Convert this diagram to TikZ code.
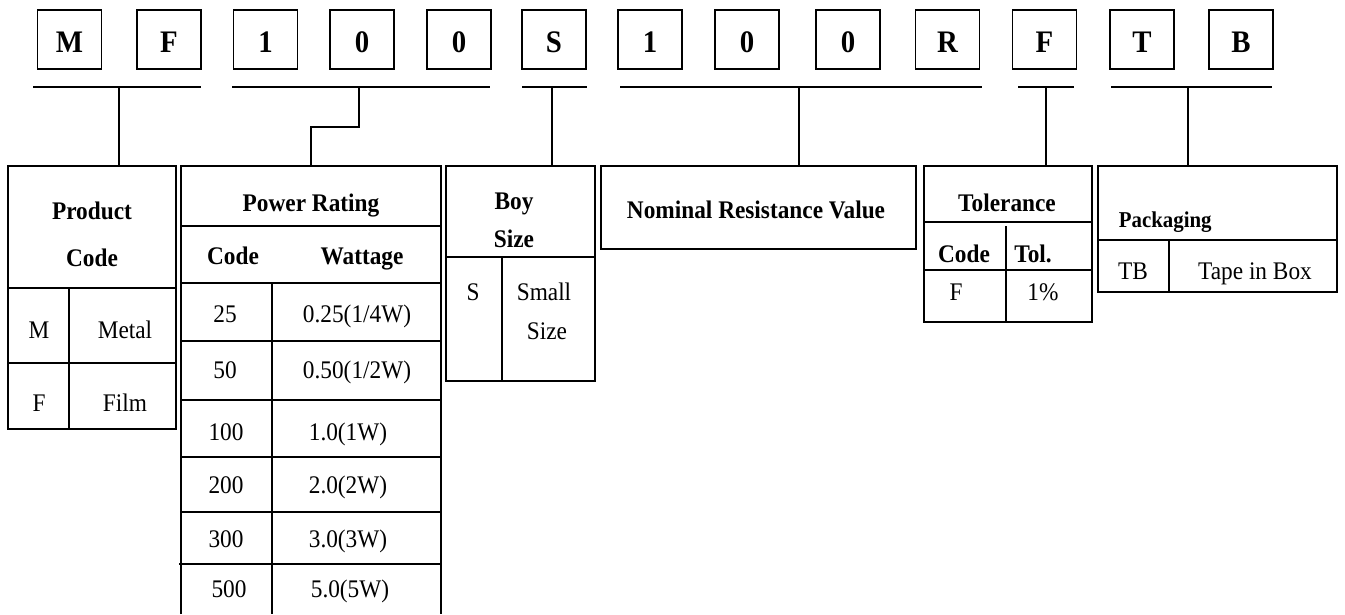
\documentclass[tikz,border=0pt]{standalone}
\usepackage{fontspec}
\setmainfont{Liberation Serif}[FakeStretch=0.92]
\begin{document}
\begin{tikzpicture}[x=0.75pt,y=-0.75pt,line width=1.4pt,
  digit/.style={draw,minimum width=48pt,minimum height=44.25pt,inner sep=0pt,
    text height=18.75pt,text depth=0pt,font=\fontsize{23.5}{26}\selectfont\bfseries},
  cell/.style={anchor=base,inner sep=0pt,font=\fontsize{19}{22}\selectfont},
  hcell/.style={anchor=base,inner sep=0pt,font=\fontsize{19}{22}\selectfont\bfseries},
  scell/.style={anchor=base west,inner sep=0pt,font=\fontsize{17}{20}\selectfont\bfseries}]
\useasboundingbox (0,0) rectangle (1345,614);

% top code boxes
\node[digit] (b1) at (69.5,39.5) {M};
\node[digit] (b2) at (169,39.5) {F};
\node[digit] (b3) at (265.5,39.5) {1};
\node[digit] (b4) at (362,39.5) {0};
\node[digit] (b5) at (459,39.5) {0};
\node[digit] (b6) at (554,39.5) {S};
\node[digit] (b7) at (650,39.5) {1};
\node[digit] (b8) at (747,39.5) {0};
\node[digit] (b9) at (848,39.5) {0};
\node[digit] (b10) at (947.5,39.5) {R};
\node[digit] (b11) at (1044.5,39.5) {F};
\node[digit] (b12) at (1142,39.5) {T};
\node[digit] (b13) at (1241,39.5) {B};

% underlines
\draw (33,87) -- (201,87);
\draw (232,87) -- (490,87);
\draw (522,87) -- (587,87);
\draw (620,87) -- (982,87);
\draw (1018,87) -- (1074,87);
\draw (1111,87) -- (1272,87);
\coordinate (s1) at (119,87);
\coordinate (s2) at (359,87);
\coordinate (s2k) at (359,127);
\coordinate (s2j) at (311,127);
\coordinate (s3) at (552,87);
\coordinate (s4) at (799,87);
\coordinate (s5) at (1046,87);
\coordinate (s6) at (1188,87);

% table tops
\coordinate (pcN) at (92,166);
\coordinate (prN) at (311,166);
\coordinate (bsN) at (520,166);
\coordinate (nrN) at (758,166);
\coordinate (toN) at (1008,166);
\coordinate (pkN) at (1217,166);

% connectors
\draw (s1) -- (s1 |- pcN);
\draw (s2) -- (s2k) -- (s2j) -- (prN);
\draw (s3) -- (s3 |- bsN);
\draw (s4) -- (s4 |- nrN);
\draw (s5) -- (s5 |- toN);
\draw (s6) -- (s6 |- pkN);

% Product Code
\draw (8,166) rectangle (176,429);
\draw (8,288) -- (176,288);
\draw (8,363) -- (176,363);
\draw (69,288) -- (69,429);
\node[hcell] (pc1) at (92,219) {Product};
\node[hcell] (pc2) at (92,266) {Code};
\node[cell] (pcm) at (39,338) {M};
\node[cell] (pcm2) at (125,338) {Metal};
\node[cell] (pcf) at (39,411) {F};
\node[cell] (pcf2) at (125,411) {Film};

% Power Rating
\draw (181,614) -- (181,166) -- (441,166) -- (441,614);
\draw (181,226) -- (441,226);
\draw (181,283) -- (441,283);
\draw (181,341) -- (441,341);
\draw (181,400) -- (441,400);
\draw (181,457) -- (441,457);
\draw (181,512) -- (441,512);
\draw (179,564) -- (441,564);
\draw (272,283) -- (272,614);
\node[hcell] (pr0) at (311,211) {Power Rating};
\node[hcell] (prc) at (233,264) {Code};
\node[hcell] (prw) at (362,264) {Wattage};
\node[cell] (r1a) at (225,322) {25};
\node[cell] (r1b) at (357,322) {0.25(1/4W)};
\node[cell] (r2a) at (225,378) {50};
\node[cell] (r2b) at (357,378) {0.50(1/2W)};
\node[cell] (r3a) at (226,440) {100};
\node[cell] (r3b) at (348,440) {1.0(1W)};
\node[cell] (r4a) at (226,493) {200};
\node[cell] (r4b) at (348,493) {2.0(2W)};
\node[cell] (r5a) at (226,547) {300};
\node[cell] (r5b) at (348,547) {3.0(3W)};
\node[cell] (r6a) at (229,597) {500};
\node[cell] (r6b) at (350,597) {5.0(5W)};

% Boy Size
\draw (446,166) rectangle (595,381);
\draw (446,257) -- (595,257);
\draw (502,257) -- (502,381);
\node[hcell] (bs1) at (514,209) {Boy};
\node[hcell] (bs2) at (514,247) {Size};
\node[cell] (bss) at (473,300) {S};
\node[cell] (bss2) at (544,300) {Small};
\node[cell] (bss3) at (547,339) {Size};

% Nominal Resistance Value
\draw (601,166) rectangle (916,249);
\node[hcell] (nr1) at (756,218) {Nominal Resistance Value};

% Tolerance
\draw (924,166) rectangle (1092,322);
\draw (924,222) -- (1092,222);
\draw (924,270) -- (1092,270);
\draw (1006,226) -- (1006,322);
\node[hcell] (to1) at (1007,211) {Tolerance};
\node[hcell] (to2) at (964,262) {Code};
\node[hcell] (to3) at (1033,262) {Tol.};
\node[cell] (to4) at (956,300) {F};
\node[cell] (to5) at (1043,300) {1\%};

% Packaging
\draw (1098,166) rectangle (1337,292);
\draw (1098,240) -- (1337,240);
\draw (1169,240) -- (1169,292);
\node[scell] (pk1) at (1118,227) {Packaging};
\node[cell] (pk2) at (1133,279) {TB};
\node[cell] (pk3) at (1255,279) {Tape in Box};
\end{tikzpicture}
\end{document}
